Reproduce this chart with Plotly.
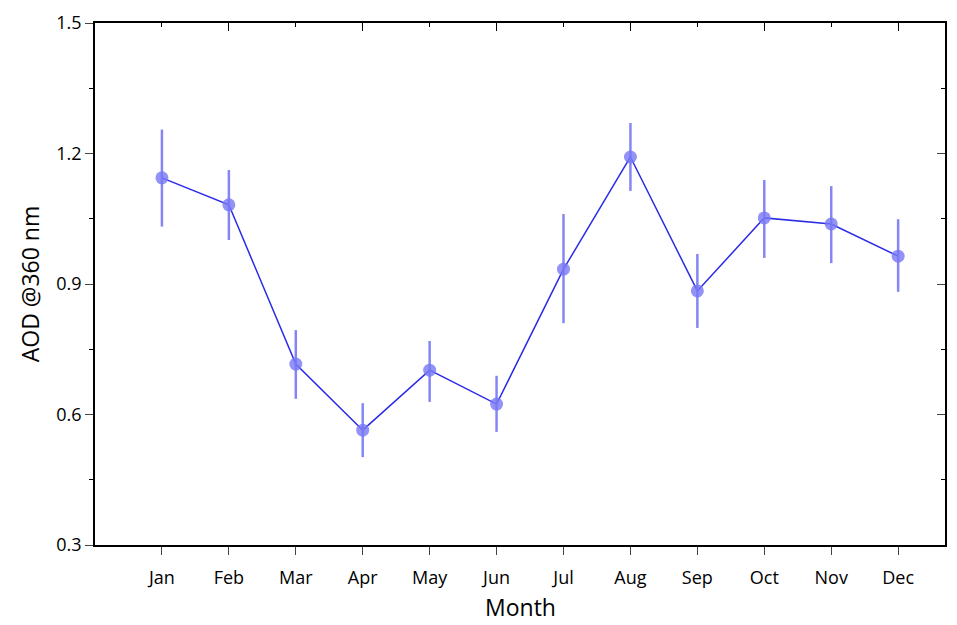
import plotly.graph_objects as go

months = ["Jan","Feb","Mar","Apr","May","Jun","Jul","Aug","Sep","Oct","Nov","Dec"]
aod = [1.144,1.082,0.716,0.564,0.702,0.624,0.934,1.192,0.884,1.052,1.038,0.964]
err_hi = [1.255,1.162,0.794,0.626,0.769,0.689,1.061,1.270,0.969,1.139,1.125,1.049]
err_lo = [1.032,1.001,0.636,0.502,0.629,0.560,0.810,1.114,0.799,0.960,0.948,0.882]

xs = list(range(1, len(months)+1))
plus = [h-v for h, v in zip(err_hi, aod)]
minus = [v-l for l, v in zip(err_lo, aod)]

fig = go.Figure()
fig.add_trace(go.Scatter(x=xs, y=aod, mode="lines", line=dict(color="#2a2ae8", width=1.5),
                         showlegend=False, hoverinfo="skip"))
fig.add_trace(go.Scatter(x=xs, y=aod, mode="markers",
                         marker=dict(color="rgba(120,120,245,0.8)", size=13),
                         error_y=dict(type="data", array=plus, arrayminus=minus,
                                      color="rgba(120,120,245,0.9)", thickness=2.5, width=0),
                         showlegend=False))
fig.add_trace(go.Scatter(x=[1, 12], y=[1.0, 1.0], mode="markers", xaxis="x2", yaxis="y2",
                         showlegend=False, hoverinfo="skip", marker=dict(opacity=0)))

font = "Open Sans, Noto Sans, sans-serif"
fig.update_layout(
    width=941, height=616, plot_bgcolor="white", paper_bgcolor="white",
    margin=dict(l=87, r=4, t=15, b=79),
    font=dict(family=font, color="black", size=18),
    xaxis=dict(range=[0, 12.7], tickvals=xs, ticktext=months, ticks="outside", ticklen=8,
               ticklabelstandoff=8,
               showline=True, linecolor="black", linewidth=1.5, mirror=True,
               showgrid=False, zeroline=False, automargin=False),
    yaxis=dict(range=[0.3, 1.5], dtick=0.3, tickformat=".1f", ticks="outside", ticklen=8,
               minor=dict(dtick=0.15, ticks="outside", ticklen=4, tickcolor="black"),
               showline=True, linecolor="black", linewidth=1.5, mirror=True,
               showgrid=False, zeroline=False, automargin=False,
               title=dict(text="AOD @360 nm", font=dict(size=23), standoff=10)),
    xaxis2=dict(range=[0, 12.7], overlaying="x", side="top", anchor="y2",
                tick0=0, dtick=2, ticks="inside", tickcolor="black", showticklabels=False,
                ticklen=8, showgrid=False, zeroline=False, automargin=False,
                minor=dict(dtick=1, ticks="inside", ticklen=4, tickcolor="black")),
    yaxis2=dict(range=[0.3, 1.5], dtick=0.3, overlaying="y", side="right", ticks="inside",
                ticklen=8, showticklabels=False, showgrid=False, zeroline=False, automargin=False,
                minor=dict(dtick=0.15, ticks="inside", ticklen=4, tickcolor="black")),
    annotations=[dict(text="Month", xref="paper", yref="paper", x=0.5, y=0, yshift=-62,
                      showarrow=False, font=dict(size=23), yanchor="middle")],
)
fig.write_html("out.html")
